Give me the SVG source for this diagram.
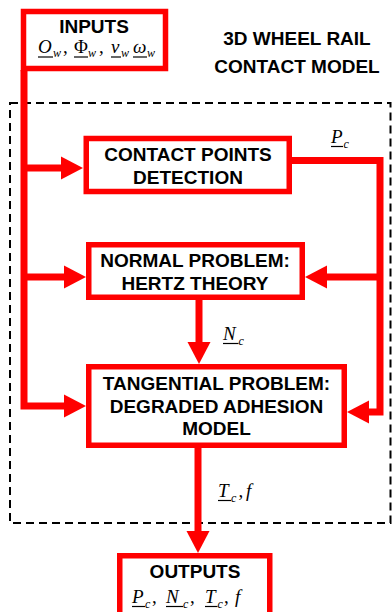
<svg xmlns="http://www.w3.org/2000/svg" width="392" height="612" viewBox="0 0 392 612">
<defs>
<style>
.box{fill:#fff;stroke:#ff0000;stroke-width:5.5}
.lbl{font-family:"Liberation Sans",Arial,sans-serif;font-weight:bold;font-size:19px;fill:#000;text-anchor:middle}
.conn{fill:none;stroke:#ff0000;stroke-width:7;stroke-linejoin:miter}
.m{font-family:"Liberation Serif","Times New Roman",serif;font-style:italic;font-size:19px;fill:#000}
.s{font-family:"Liberation Serif","Times New Roman",serif;font-style:italic;font-size:12px;fill:#000}
.mu{font-family:"Liberation Serif","Times New Roman",serif;font-size:19px;fill:#000}
.ul{stroke:#000;stroke-width:1.2}
.dash{fill:none;stroke:#000;stroke-width:2;stroke-dasharray:8 5}
</style>
<marker id="ah" viewBox="0 -12 22 24" refX="1" refY="0" markerWidth="22" markerHeight="24" markerUnits="userSpaceOnUse" orient="auto">
<path d="M0,-11.5 L22,0 L0,11.5 Z" fill="#ff0000"/>
</marker>
</defs>
<rect width="392" height="612" fill="#fff"/>

<rect id="model-frame" class="dash" x="10" y="103" width="380.5" height="420"/>
<g id="title">
<text class="lbl" x="297" y="45">3D WHEEL RAIL</text>
<text class="lbl" x="297" y="73">CONTACT MODEL</text>
</g>

<g id="connectors">
<path class="conn" d="M24,70 V406 H65" marker-end="url(#ah)"/>
<path class="conn" d="M24,168 H62" marker-end="url(#ah)"/>
<path class="conn" d="M24,277 H65" marker-end="url(#ah)"/>
<path class="conn" d="M292,160.5 H380 V412 H368" marker-end="url(#ah)"/>
<path class="conn" d="M380,277 H326" marker-end="url(#ah)"/>
<path class="conn" d="M199,299 V343" marker-end="url(#ah)"/>
<path class="conn" d="M198,447 V532" marker-end="url(#ah)"/>
<g id="label-Pc">
<text class="m" x="331" y="143">P</text><text class="s" x="343.5" y="147.5">c</text>
<line class="ul" x1="331" y1="146.5" x2="343" y2="146.5"/>
</g>
<g id="label-Nc">
<text class="m" x="223" y="340">N</text><text class="s" x="238.5" y="344.5">c</text>
<line class="ul" x1="223" y1="343.5" x2="238.5" y2="343.5"/>
</g>
<g id="label-Tcf">
<text class="m" x="218" y="497">T</text><text class="s" x="231" y="501.5">c</text>
<text class="mu" x="238.5" y="497">,</text>
<text class="m" x="246" y="497">f</text>
<line class="ul" x1="218" y1="500.5" x2="231" y2="500.5"/>
</g>
</g>

<g id="inputs">
<rect class="box" x="23.5" y="11.5" width="142" height="57"/>
<text class="lbl" x="94" y="33">INPUTS</text>
<text class="m" x="38" y="53">O</text><text class="s" x="53" y="57">w</text>
<text class="mu" x="63" y="53">,</text>
<text class="mu" x="74" y="53">Φ</text><text class="s" x="88" y="57">w</text>
<text class="mu" x="99" y="53">,</text>
<text class="m" x="111" y="53">v</text><text class="s" x="121" y="57">w</text>
<text class="m" x="133" y="53">ω</text><text class="s" x="147" y="57">w</text>
<line class="ul" x1="38" y1="57" x2="53" y2="57"/>
<line class="ul" x1="74" y1="57" x2="88" y2="57"/>
<line class="ul" x1="111" y1="57" x2="121" y2="57"/>
<line class="ul" x1="133" y1="57" x2="147" y2="57"/>
</g>

<g id="contact-points">
<rect class="box" x="86.25" y="138.5" width="203" height="53"/>
<text class="lbl" x="188" y="161">CONTACT POINTS</text>
<text class="lbl" x="188" y="183.5">DETECTION</text>
</g>

<g id="normal-problem">
<rect class="box" x="88.75" y="244.75" width="213.5" height="52.5"/>
<text class="lbl" x="195" y="267">NORMAL PROBLEM:</text>
<text class="lbl" x="195" y="290">HERTZ THEORY</text>
</g>

<g id="tangential-problem">
<rect class="box" x="88.75" y="366.75" width="255.5" height="78.5"/>
<text class="lbl" x="216.5" y="390">TANGENTIAL PROBLEM:</text>
<text class="lbl" x="216.5" y="412.5">DEGRADED ADHESION</text>
<text class="lbl" x="216.5" y="435">MODEL</text>
</g>

<g id="outputs">
<rect class="box" x="119.75" y="555.75" width="150" height="60"/>
<text class="lbl" x="195" y="578">OUTPUTS</text>
<text class="m" x="132" y="603">P</text><text class="s" x="145" y="607.5">c</text>
<text class="mu" x="152" y="603">,</text>
<text class="m" x="166" y="603">N</text><text class="s" x="183" y="607.5">c</text>
<text class="mu" x="190" y="603">,</text>
<text class="m" x="205" y="603">T</text><text class="s" x="217.5" y="607.5">c</text>
<text class="mu" x="224" y="603">,</text>
<text class="m" x="235" y="603">f</text>
<line class="ul" x1="132" y1="606.5" x2="145" y2="606.5"/>
<line class="ul" x1="166" y1="606.5" x2="183" y2="606.5"/>
<line class="ul" x1="205" y1="606.5" x2="217.5" y2="606.5"/>
</g>
</svg>
